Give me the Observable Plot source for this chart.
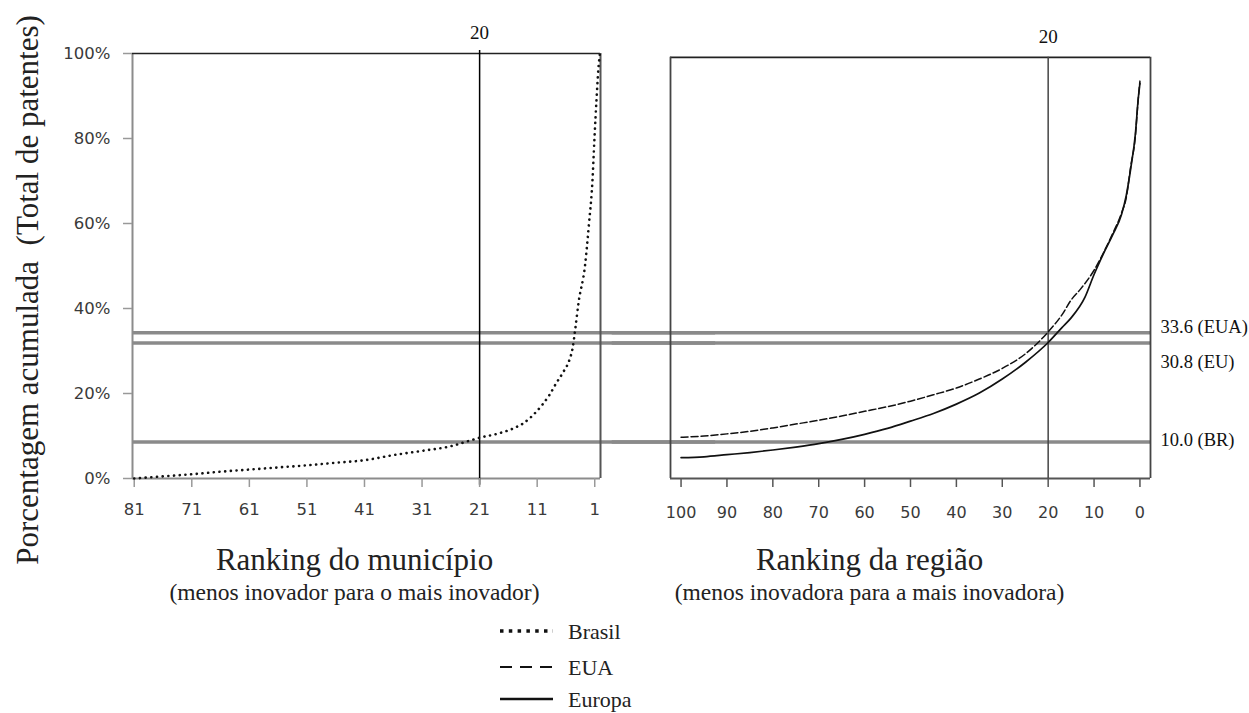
<!DOCTYPE html>
<html><head><meta charset="utf-8">
<script src="https://cdn.jsdelivr.net/npm/d3@7"></script>
<script src="https://cdn.jsdelivr.net/npm/@observablehq/plot@0.6"></script>
<style>
body{margin:0;background:#fff;}
#wrap{position:relative;width:1249px;height:713px;background:#fff;overflow:hidden;}
#left,#right{position:absolute;top:0;}
#left{left:0;} #right{left:635px;}
#legend{position:absolute;left:0;top:610px;}
</style></head><body>
<div id="wrap"><div id="left"></div><div id="right"></div><div id="legend"></div></div>
<script>
// ---- data ----
const brasilRank = [81,76,71,66,61,56,51,46,41,36,31,26,23,21,18,15.3,13.4,11.8,10.2,8.9,7.7,6.4,5.4,4.8,4.4,3.8,2.7,2.0,1.4,1.05,0.7,0.35,0.1];
const brasilPct  = [0,0.5,1.0,1.6,2.1,2.6,3.1,3.7,4.3,5.5,6.5,7.6,8.8,9.6,10.5,11.7,13,14.8,17.2,19.6,22.4,25.2,27.9,31,35,41.5,50,60,70,80,89,96.7,100];

const euaRank = [100,95,90,85,80,75,70,65,60,55,50,45,40,35,30,25,20,17,15,13,10,8,6,4,3,2,1,0.4,0];
const euaPct  = [9.7,10,10.5,11.1,11.9,12.8,13.7,14.7,15.8,16.9,18.2,19.7,21.3,23.4,25.9,29.3,34.5,38.5,42,44.5,49,53,57.5,62.5,66,73.5,80.5,89,93.5];

const europaRank = [100,95,90,85,80,75,70,65,60,55,50,45,40,35,30,25,20,17,15,12,10,8,6,4,3,2,1,0.4,0];
const europaPct  = [4.9,5.1,5.6,6.1,6.7,7.4,8.2,9.2,10.4,11.8,13.5,15.3,17.5,20.1,23.4,27.3,32,35.5,37.8,42.6,48,52.8,57.2,62.2,66.5,73,81,89,93];

const refY      = [34.3, 31.9, 8.6];          // drawn positions of the grey reference lines
const refLabels = ["33.6 (EUA)", "30.8 (EU)", "10.0 (BR)"];

const yTicks      = [0,20,40,60,80,100];
const leftXTicks  = [81,71,61,51,41,31,21,11,1];
const rightXTicks = [100,90,80,70,60,50,40,30,20,10,0];
const leftCutoff  = 21;   // vertical line position, left panel
const rightCutoff = 20;   // vertical line position, right panel
const cutoffLabel = "20";

const yTitle = "Porcentagem acumulada  (Total de patentes)";
const leftTitle = "Ranking do município";
const leftSub = "(menos inovador para o mais inovador)";
const rightTitle = "Ranking da região";
const rightSub = "(menos inovadora para a mais inovadora)";
const legendNames = ["Brasil", "EUA", "Europa"];

// ---- layout ----
const H = 610;
const serif = "Liberation Serif, Times New Roman, serif";
const sans = "DejaVu Sans, Verdana, sans-serif";
const refStyle = {stroke: "#8a8a8a", strokeWidth: 3.5};
const titleStyle = {fontFamily: serif, fill: "#222", textAnchor: "middle", lineAnchor: "middle"};

const leftDom = [81.3, 0];
const left = Plot.plot({
  width: 635, height: H,
  marginLeft: 132, marginRight: 35, marginTop: 53, marginBottom: H - 478,
  x: {domain: leftDom},
  y: {domain: [0, 100]},
  style: {fontFamily: serif, background: "transparent", overflow: "visible"},
  marks: [
    Plot.ruleY(refY, {x1: leftDom[0], x2: -20, ...refStyle}),
    Plot.ruleX([leftDom[0]], {y1: 0, y2: 100, stroke: "#8c8c8c", strokeWidth: 2}),
    Plot.ruleY([0], {x1: leftDom[0], x2: 0, stroke: "#8c8c8c", strokeWidth: 2}),
    Plot.ruleY([100], {x1: leftDom[0], x2: 0, stroke: "#222", strokeWidth: 1.6}),
    Plot.ruleX([0], {y1: 0, y2: 100, stroke: "#555", strokeWidth: 2}),
    Plot.ruleX([leftCutoff], {y1: -1.6, y2: 100.7, stroke: "#000", strokeWidth: 1.5}),
    Plot.text([cutoffLabel], {x: leftCutoff, y: 100, dy: -21, fontSize: 19, fontFamily: serif, fill: "#111"}),
    Plot.axisY(yTicks, {tickSize: 9, tickPadding: 13, tickFormat: d => d + "%", stroke: "#999", strokeWidth: 1.5,
      fill: "#3a3a3a", fontFamily: sans, fontSize: 16.5, label: null}),
    Plot.axisX(leftXTicks, {tickSize: 9, tickPadding: 16, stroke: "#999", strokeWidth: 1.5,
      fill: "#3a3a3a", fontFamily: sans, fontSize: 16.5, label: null}),
    Plot.line(brasilRank, {x: brasilRank, y: brasilPct, stroke: "#111", strokeWidth: 2.6,
      strokeDasharray: "0.1,5.6", strokeLinecap: "round", curve: "monotone-x"}),
    Plot.text([yTitle], {frameAnchor: "left", rotate: -90, dx: -104, dy: 24, fontSize: 31, ...titleStyle}),
    Plot.text([leftTitle], {frameAnchor: "bottom", dx: -12, dy: 82, fontSize: 31, ...titleStyle}),
    Plot.text([leftSub], {frameAnchor: "bottom", dx: -12, dy: 114, fontSize: 23.5, ...titleStyle})
  ]
});
document.getElementById("left").appendChild(left);

const rightDom = [102.3, -2.3];
const rightTop = 99.1;
const labelDy = [-6, 19, -2];
const right = Plot.plot({
  width: 614, height: H,
  marginLeft: 35, marginRight: 99, marginTop: 53, marginBottom: H - 478,
  x: {domain: rightDom},
  y: {domain: [0, 100], axis: null},
  style: {fontFamily: serif, background: "transparent", overflow: "visible"},
  marks: [
    Plot.ruleY(refY, {x1: 115, x2: rightDom[1], ...refStyle}),
    Plot.ruleY([rightTop], {x1: rightDom[0], x2: rightDom[1], stroke: "#222", strokeWidth: 1.6}),
    Plot.ruleX(rightDom, {y1: 0, y2: rightTop, stroke: "#444", strokeWidth: 1.8}),
    Plot.ruleY([0], {x1: rightDom[0], x2: rightDom[1], stroke: "#555", strokeWidth: 2}),
    Plot.ruleX([rightCutoff], {y1: 0, y2: rightTop, stroke: "#444", strokeWidth: 1.5}),
    Plot.text([cutoffLabel], {x: rightCutoff, y: rightTop, dy: -20, fontSize: 19, fontFamily: serif, fill: "#111"}),
    Plot.axisX(rightXTicks, {tickSize: 9, tickPadding: 19, stroke: "#555", strokeWidth: 1.5,
      fill: "#3a3a3a", fontFamily: sans, fontSize: 16, label: null}),
    Plot.line(euaRank, {x: euaRank, y: euaPct, stroke: "#111", strokeWidth: 1.5,
      strokeDasharray: "7,3", curve: "monotone-x"}),
    Plot.line(europaRank, {x: europaRank, y: europaPct, stroke: "#111", strokeWidth: 1.7, curve: "monotone-x"}),
    ...refLabels.map((t, i) => Plot.text([t], {x: rightDom[1], y: refY[i], dx: 10, dy: labelDy[i],
      textAnchor: "start", fontSize: 18.5, fontFamily: serif, fill: "#111"})),
    Plot.text([rightTitle], {frameAnchor: "bottom", dx: -41, dy: 82, fontSize: 31, ...titleStyle}),
    Plot.text([rightSub], {frameAnchor: "bottom", dx: -41, dy: 114, fontSize: 23.5, ...titleStyle})
  ]
});
document.getElementById("right").appendChild(right);

// ---- legend (below the plots) ----
const dashes = ["3.5,5.3", "12,8", null];
const widths = [3.5, 2.2, 2.6];
const rowsY = [21, 57, 89];
const lg = d3.select("#legend").append("svg").attr("width", 1249).attr("height", 103);
legendNames.forEach((name, i) => {
  lg.append("line").attr("x1", 500).attr("x2", 553).attr("y1", rowsY[i]).attr("y2", rowsY[i])
    .attr("stroke", "#111").attr("stroke-width", widths[i])
    .attr("stroke-dasharray", dashes[i]);
  lg.append("text").attr("x", 568).attr("y", rowsY[i]).attr("dy", "0.35em")
    .attr("font-family", serif).attr("font-size", 22).attr("fill", "#222").text(name);
});
</script>
</body></html>
